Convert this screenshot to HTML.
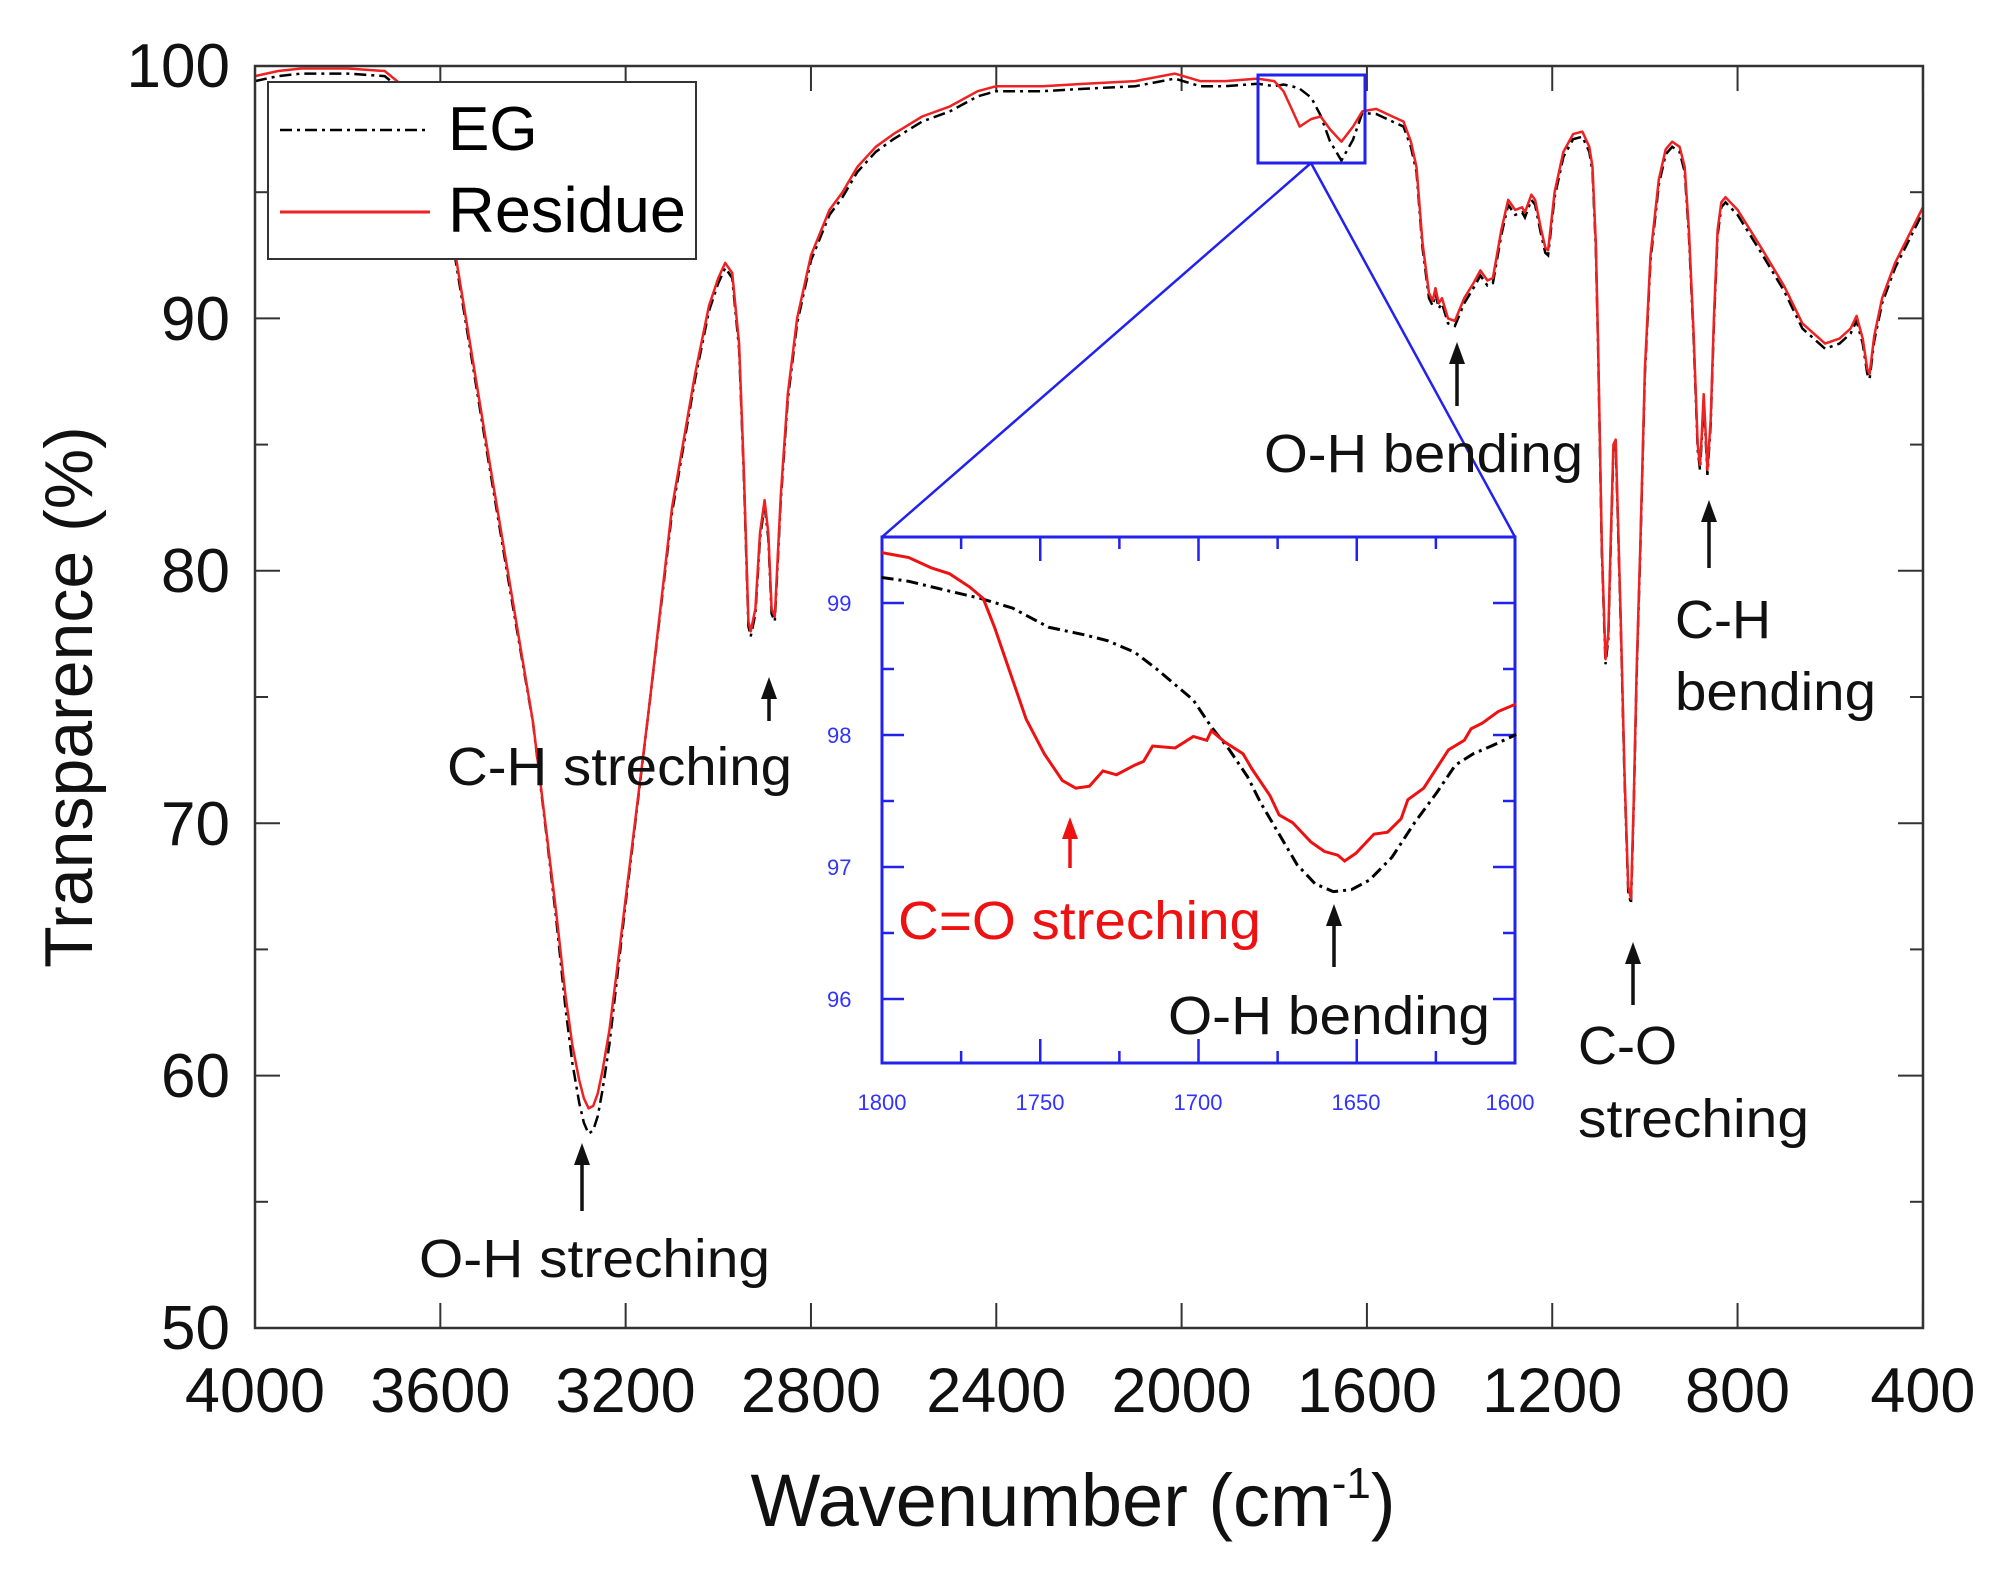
<!DOCTYPE html>
<html><head><meta charset="utf-8"><style>
body{margin:0;background:#fff}
svg{display:block}
text{font-family:"Liberation Sans",sans-serif}
</style></head><body>
<svg id="s" width="2002" height="1577" viewBox="0 0 2002 1577" xmlns="http://www.w3.org/2000/svg">
<rect width="2002" height="1577" fill="#fff"/>
<g id="ticks" stroke="#333" stroke-width="2"></g>
<path id="eg" fill="none" stroke="#000" stroke-width="2.5" stroke-dasharray="12,5,3,5"/>
<path id="res" fill="none" stroke="#ee2222" stroke-width="2.5" stroke-linejoin="round"/>
<rect x="255" y="66" width="1668" height="1262" fill="none" stroke="#333" stroke-width="2.5"/>
<rect x="268" y="82" width="428" height="177" fill="#fff" stroke="#333" stroke-width="2"/>
<line x1="280" y1="130" x2="430" y2="130" stroke="#000" stroke-width="2.5" stroke-dasharray="12,5,3,5"/>
<line x1="280" y1="212" x2="430" y2="212" stroke="#ee2222" stroke-width="3"/>
<text x="448" y="150" font-size="62">EG</text>
<text x="448" y="232" font-size="64" textLength="238" lengthAdjust="spacingAndGlyphs">Residue</text>
<rect x="1258" y="75" width="107" height="88" fill="none" stroke="#2222ee" stroke-width="3"/>
<line x1="1311" y1="163" x2="882" y2="537" stroke="#2222ee" stroke-width="2.5"/>
<line x1="1311" y1="163" x2="1515" y2="537" stroke="#2222ee" stroke-width="2.5"/>
<rect x="882" y="537" width="633" height="526" fill="#fff" stroke="#2222ee" stroke-width="3"/>
<g id="iticks" stroke="#2222ee" stroke-width="2.5"></g>
<g transform="translate(850,520) scale(0.4517,0.3831)">
<path id="ieg" fill="none" stroke="#000" stroke-width="3" vector-effect="non-scaling-stroke" stroke-dasharray="12,5,3,5"/>
<path id="ires" fill="none" stroke="#ee1111" stroke-width="3" vector-effect="non-scaling-stroke"/>
</g>
<g font-size="22" fill="#3333ff">
<text x="827" y="611">99</text><text x="827" y="743">98</text><text x="827" y="875">97</text><text x="827" y="1007">96</text>
<text x="882" y="1110" text-anchor="middle">1800</text><text x="1040" y="1110" text-anchor="middle">1750</text><text x="1198" y="1110" text-anchor="middle">1700</text><text x="1356" y="1110" text-anchor="middle">1650</text><text x="1510" y="1110" text-anchor="middle">1600</text>
</g>
<g font-size="62" fill="#111">
<text x="230" y="87" text-anchor="end">100</text>
<text x="230" y="340" text-anchor="end">90</text>
<text x="230" y="592" text-anchor="end">80</text>
<text x="230" y="845" text-anchor="end">70</text>
<text x="230" y="1097" text-anchor="end">60</text>
<text x="230" y="1349" text-anchor="end">50</text>
</g>
<g id="xl" font-size="63" fill="#111" text-anchor="middle"></g>
<text x="1073" y="1526" font-size="74" text-anchor="middle" fill="#111">Wavenumber (cm<tspan dy="-28" font-size="44">-1</tspan><tspan dy="28">)</tspan></text>
<text transform="translate(92,697) rotate(-90)" font-size="68" text-anchor="middle" fill="#111">Transparence (%)</text>
<g font-size="54" fill="#111">
<text x="419" y="1277" textLength="351" lengthAdjust="spacingAndGlyphs">O-H streching</text>
<text x="447" y="785" textLength="345" lengthAdjust="spacingAndGlyphs">C-H streching</text>
<text x="1264" y="472" textLength="319" lengthAdjust="spacingAndGlyphs">O-H bending</text>
<text x="1675" y="638">C-H</text><text x="1675" y="710" textLength="201" lengthAdjust="spacingAndGlyphs">bending</text>
<text x="1578" y="1064">C-O</text><text x="1578" y="1137" textLength="231" lengthAdjust="spacingAndGlyphs">streching</text>
<text x="1168" y="1034" textLength="322" lengthAdjust="spacingAndGlyphs">O-H bending</text>
</g>
<text x="898" y="939" font-size="54" fill="#ee1111" textLength="363" lengthAdjust="spacingAndGlyphs">C=O streching</text>
<g id="arrows"></g>
</svg>
<script>
const X=w=>255+(4000-w)*0.4633, Y=v=>66+(100-v)*25.24;
const R=[[4000,99.6],[3950,99.8],[3900,99.9],[3800,99.9],[3720,99.8],[3680,99.2],[3650,97],[3600,94.5],[3567,92.5],[3500,85],[3450,79.5],[3400,74],[3370,69.5],[3350,66.5],[3330,63.2],[3315,61.2],[3300,59.8],[3290,59.1],[3280,58.7],[3270,58.8],[3260,59.3],[3250,60.2],[3235,61.8],[3220,64],[3200,67],[3150,74.5],[3100,82.5],[3050,87.8],[3020,90.5],[3000,91.6],[2985,92.2],[2970,91.8],[2955,89],[2945,84],[2935,78],[2930,77.6],[2920,78.5],[2910,81.5],[2900,82.8],[2892,81.5],[2885,78.5],[2878,78.2],[2865,83],[2850,87],[2830,90],[2800,92.5],[2760,94.3],[2732,95],[2700,96],[2660,96.8],[2622,97.3],[2560,98],[2500,98.4],[2440,99],[2400,99.2],[2300,99.2],[2208,99.3],[2100,99.4],[2015,99.7],[1960,99.4],[1905,99.4],[1836,99.5],[1800,99.4],[1780,99],[1760,98.2],[1745,97.6],[1720,97.9],[1700,98],[1680,97.5],[1655,97],[1630,97.6],[1610,98.2],[1580,98.3],[1545,98],[1521,97.8],[1505,97],[1493,96],[1480,93],[1466,91],[1458,90.7],[1452,91.2],[1445,90.6],[1438,90.8],[1425,90],[1410,89.9],[1390,90.8],[1370,91.4],[1355,91.9],[1340,91.5],[1328,91.6],[1310,93.5],[1295,94.7],[1280,94.3],[1265,94.4],[1259,94.2],[1245,94.9],[1237,94.7],[1225,93.6],[1215,92.8],[1209,92.7],[1195,95],[1176,96.6],[1155,97.3],[1135,97.4],[1120,96.8],[1113,96],[1106,93],[1101,89],[1093,81],[1085,76.5],[1079,77.5],[1074,81],[1068,85],[1063,85.2],[1058,82],[1052,78],[1044,72],[1036,67.5],[1030,67],[1024,71],[1018,76],[1010,81],[1000,88],[988,92.5],[970,95.5],[955,96.7],[941,97],[925,96.8],[914,96],[905,93.5],[895,89.5],[886,85],[881,84.2],[877,85.5],[873,87],[869,85.5],[865,84],[858,86],[851,90],[843,93.5],[835,94.6],[826,94.8],[800,94.3],[749,92.8],[700,91.3],[660,89.8],[611,89],[580,89.2],[556,89.6],[543,90.1],[530,89.2],[520,88],[515,87.8],[505,89.3],[488,90.8],[460,92.2],[430,93.3],[400,94.4]];
const egAdj=w=>{ if(w<3450&&w>3120){return -1.0*Math.exp(-Math.pow((w-3280)/60,2));} return -0.2;};
const E=R.map(([w,v])=>{let e=v+egAdj(w);
 if(w<=1790&&w>=1610){const t=(1790-w)/180; e=99.3-2.6*Math.exp(-Math.pow((w-1655)/45,2))-0.6*t+(w<1655?0.4*(1655-w)/45:0);}
 return [w,e];});
const P=a=>a.map((p,i)=>(i?'L':'M')+X(p[0]).toFixed(1)+' '+Y(p[1]).toFixed(1)).join(' ');
document.getElementById('res').setAttribute('d',P(R));
document.getElementById('eg').setAttribute('d',P(E));
const Q=a=>a.map((p,i)=>(i?'L':'M')+p[0]+' '+p[1]).join(' ');
document.getElementById('ires').setAttribute('d',Q([[70,85],[130,98],[180,125],[220,140],[265,175],[295,205],[320,280],[355,400],[390,520],[430,610],[470,680],[500,700],[530,695],[560,655],[590,665],[630,640],[650,630],[670,590],[720,595],[760,565],[790,575],[800,550],[830,580],[870,610],[890,650],[930,720],[950,770],[980,790],[1020,840],[1050,865],[1080,875],[1095,890],[1120,870],[1160,820],[1190,815],[1220,780],[1235,730],[1270,700],[1325,600],[1360,575],[1375,545],[1400,530],[1435,500],[1475,480]]));
document.getElementById('ieg').setAttribute('d',Q([[70,150],[130,160],[200,180],[290,205],[360,230],[440,280],[520,300],[570,315],[630,345],[680,390],[730,440],[760,470],[800,540],[840,600],[880,670],[910,740],[950,820],[990,900],[1030,950],[1070,970],[1110,965],[1150,940],[1200,880],[1250,790],[1300,710],[1340,640],[1380,610],[1420,590],[1475,560]]));
let t='',xl='';
for(let w=4000;w>=400;w-=400){const x=X(w);t+=`<line x1="${x}" y1="1328" x2="${x}" y2="1303"/><line x1="${x}" y1="66" x2="${x}" y2="91"/>`;xl+=`<text x="${x}" y="1412">${w}</text>`;}
for(let v=50;v<=100;v+=5){const y=Y(v),L=v%10?13:25;t+=`<line x1="255" y1="${y}" x2="${255+L}" y2="${y}"/><line x1="1923" y1="${y}" x2="${1923-L}" y2="${y}"/>`;}
document.getElementById('ticks').innerHTML=t;document.getElementById('xl').innerHTML=xl;
let it='';
for(let w=1800;w>=1600;w-=25){const x=882+(1800-w)/200*633,L=w%50?12:24;it+=`<line x1="${x}" y1="537" x2="${x}" y2="${537+L}"/><line x1="${x}" y1="1063" x2="${x}" y2="${1063-L}"/>`;}
for(let v=96;v<=99.01;v+=0.5){const y=603+(99-v)*132,L=(Math.abs(v-Math.round(v))>0.1)?12:22;it+=`<line x1="882" y1="${y}" x2="${882+L}" y2="${y}"/><line x1="1515" y1="${y}" x2="${1515-L}" y2="${y}"/>`;}
document.getElementById('iticks').innerHTML=it;
const ar=(x,y1,y2,c)=>`<line x1="${x}" y1="${y1}" x2="${x}" y2="${y2+12}" stroke="${c}" stroke-width="3.5"/><path d="M${x-8} ${y2+22} L${x} ${y2} L${x+8} ${y2+22} Z" fill="${c}"/>`;
document.getElementById('arrows').innerHTML=ar(582,1211,1143,'#111')+ar(769,721,677,'#111')+ar(1457,406,342,'#111')+ar(1709,568,500,'#111')+ar(1633,1005,942,'#111')+ar(1334,967,904,'#111')+ar(1070,868,817,'#ee1111');
</script>
</body></html>
